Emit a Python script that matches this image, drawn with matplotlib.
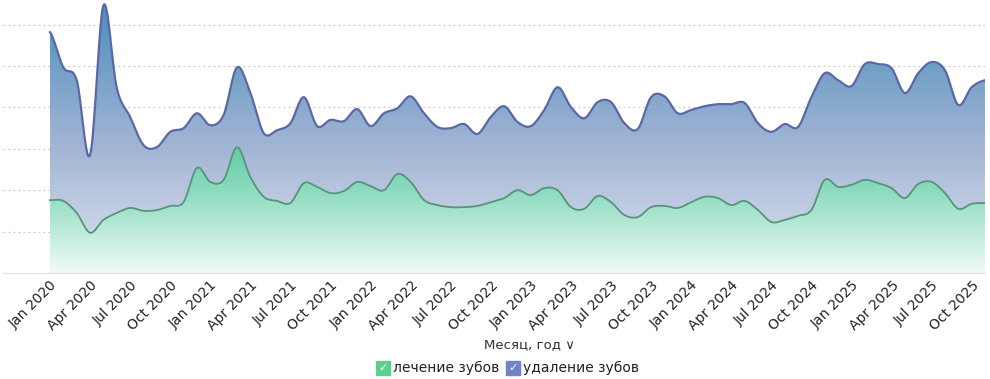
import numpy as np
import pandas as pd
import matplotlib.pyplot as plt
from matplotlib.colors import LinearSegmentedColormap
from matplotlib.patches import Rectangle

# monthly values, Jan 2020 .. Nov 2025
months = pd.date_range('2020-01-01', periods=71, freq='MS')

udalenie = [582, 497, 466, 285, 647, 447, 377, 309, 304, 341, 350, 386,
            357, 382, 497, 435, 338, 345, 362, 425, 355, 370, 367, 396,
            355, 386, 398, 427, 386, 353, 350, 360, 336, 377, 403, 365,
            355, 394, 449, 401, 374, 413, 413, 362, 348, 425, 427, 386,
            394, 403, 408, 408, 411, 362, 341, 360, 353, 425, 483, 466,
            452, 505, 505, 495, 435, 483, 510, 490, 406, 449, 466]

lechenie = [176, 174, 145, 97, 128, 145, 157, 150, 152, 162, 171, 254,
            220, 225, 304, 232, 184, 174, 169, 217, 208, 193, 198, 220,
            210, 200, 239, 220, 176, 164, 159, 159, 162, 171, 181, 200,
            188, 205, 200, 159, 155, 186, 171, 140, 135, 159, 162, 157,
            171, 184, 181, 164, 174, 152, 123, 128, 138, 152, 225, 208,
            213, 225, 217, 205, 181, 215, 220, 193, 155, 167, 169]

tick_labels = [m.strftime('%b %Y') for m in months[::3]]


def smooth(y, n=16):
    # catmull-rom spline through the points, just for drawing
    y = np.asarray(y, dtype=float)
    xs, ys = [], []
    t = np.linspace(0, 1, n, endpoint=False)
    for i in range(len(y) - 1):
        p0 = y[max(i - 1, 0)]
        p1 = y[i]
        p2 = y[i + 1]
        p3 = y[min(i + 2, len(y) - 1)]
        seg = 0.5 * (2 * p1 + (-p0 + p2) * t + (2 * p0 - 5 * p1 + 4 * p2 - p3) * t ** 2
                     + (-p0 + 3 * p1 - 3 * p2 + p3) * t ** 3)
        xs.append(i + t)
        ys.append(seg)
    xs.append([len(y) - 1])
    ys.append([y[-1]])
    return np.concatenate(xs), np.concatenate(ys)


fig = plt.figure(figsize=(9.9, 3.79), dpi=100)
ax = fig.add_axes([0.003, 0.28, 0.992, 0.72])
ymax = 660

blue_cmap = LinearSegmentedColormap.from_list('b', [(0, '#dfe4f0'), (0.45, '#a4b6d5'), (1, '#4a8dbd')])
green_cmap = LinearSegmentedColormap.from_list('g', [(0, '#f0fbf7'), (0.6, '#90dcc1'), (1, '#5cc9a0')])
grad = np.linspace(0, 1, 256).reshape(-1, 1)

xb, yb = smooth(udalenie)
poly = ax.fill_between(xb, 0, yb, color='none')
im = ax.imshow(grad, cmap=blue_cmap, origin='lower', aspect='auto',
               extent=[0, len(udalenie) - 1, 0, ymax], zorder=1)
im.set_clip_path(poly.get_paths()[0], transform=ax.transData)
ax.plot(xb, yb, color='#5c68a6', lw=1.6, zorder=3)

xg, yg = smooth(lechenie)
poly2 = ax.fill_between(xg, 0, yg, color='none')
im2 = ax.imshow(grad, cmap=green_cmap, origin='lower', aspect='auto',
                extent=[0, len(lechenie) - 1, 0, 320], zorder=2)
im2.set_clip_path(poly2.get_paths()[0], transform=ax.transData)
ax.plot(xg, yg, color='#58937c', lw=1.3, zorder=3)

ax.set_xlim(-3.52, 70.0)
ax.set_ylim(0, ymax)
ax.set_yticks([100, 200, 300, 400, 500, 600])
ax.set_yticklabels([])
ax.grid(axis='y', color='#c8c8c8', linestyle=(0, (1.5, 2.5)), lw=0.9, zorder=0)
ax.set_axisbelow(True)
ax.set_xticks(range(0, len(months), 3))
ax.set_xticklabels(tick_labels, rotation=45, ha='right', rotation_mode='anchor',
                   fontsize=10, color='#222222')
ax.tick_params(length=0, pad=4)
for s in ['top', 'right', 'left']:
    ax.spines[s].set_visible(False)
ax.spines['bottom'].set_color('#e2e2e2')

fig.text(0.535, 0.092, 'Месяц, год ∨', ha='center', va='center', fontsize=9.5, color='#333333')

# legend with checkboxes
for x0, col, label in [(376, '#5ccf8a', 'лечение зубов'), (506, '#6f84c4', 'удаление зубов')]:
    fig.add_artist(Rectangle((x0 / 990, 4 / 379), 14 / 990, 14 / 379,
                             transform=fig.transFigure, color=col))
    fig.text((x0 + 7) / 990, 11 / 379, '✓', ha='center', va='center', fontsize=8, color='white')
    fig.text((x0 + 17) / 990, 11 / 379, label, ha='left', va='center', fontsize=10, color='#222222')

fig.savefig('out.png', dpi=100)
